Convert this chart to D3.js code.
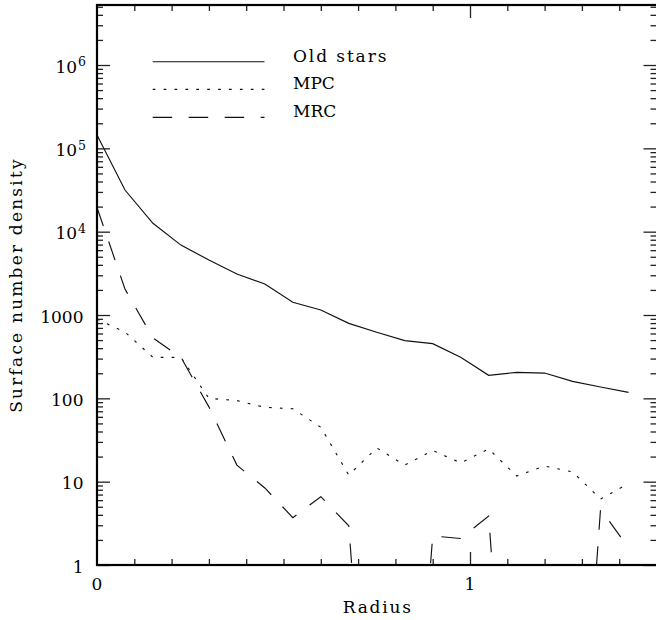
<!DOCTYPE html>
<html>
<head>
<meta charset="utf-8">
<script src="https://cdn.jsdelivr.net/npm/d3@7"></script>
<style>
  html, body { margin: 0; padding: 0; background: #fff; }
  svg { display: block; }
  text { font-family: "DejaVu Serif", "Liberation Serif", serif; fill: #000; }
</style>
</head>
<body>
<svg id="chart" width="656" height="620"></svg>
<script>
// Radial bins (x) and surface number densities for each population
const radius = [0, 0.075, 0.15, 0.225, 0.3, 0.375, 0.45, 0.525, 0.6, 0.675,
                0.75, 0.825, 0.9, 0.975, 1.05, 1.125, 1.2, 1.275, 1.35, 1.425];
const oldStars = [145000, 31600, 12600, 6900, 4570, 3100, 2360, 1420, 1150, 794,
                  620, 492, 453, 311, 189, 205, 201, 160, 137, 118];
const mpc = [890, 625, 310, 310, 100, 94, 78, 75, 45, 12,
             25.4, 15.8, 23.7, 16.8, 24.7, 11.7, 15.4, 13.1, 6.2, 9.5];
// empty bins are stored as 0
const mrc = [19500, 2050, 530, 310, 79, 15.8, 8.4, 3.7, 6.6, 2.95,
             0, 0, 2.23, 2.08, 3.87, 0, 0, 0, 4.7, 1.6];

const seriesNames = ["Old stars", "MPC", "MRC"];

const xDomain = [0, 1.5];
const yDomain = [1, 5.25e6];
const xTickValues = [0, 1];
const xTickLabels = ["0", "1"];
const yTickValues = [1, 10, 100, 1000, 1e4, 1e5, 1e6];
const yTickBase = ["1", "10", "100", "1000", "10", "10", "10"];
const yTickExp = ["", "", "", "", "4", "5", "6"];

const xTitle = "Radius";
const yTitle = "Surface number density";

// log of an empty bin is pushed far below the frame and clipped
const ZERO_FLOOR = 1e-4;

(function draw() {
  const svg = d3.select("#chart");
  const m = { left: 97, right: 656.5, top: 5, bottom: 565 };

  const x = d3.scaleLinear().domain(xDomain).range([m.left, m.right]);
  const y = d3.scaleLog().domain(yDomain).range([m.bottom, m.top]);

  // ---- data lines (clipped to the frame) ----
  svg.append("clipPath").attr("id", "plotClip")
    .append("rect").attr("x", m.left).attr("y", m.top)
    .attr("width", m.right - m.left).attr("height", m.bottom - m.top);

  const styles = [
    { dash: null },
    { dash: "2.7,8.2" },
    { dash: "19.5,16.5" }
  ];
  const seriesData = [oldStars, mpc, mrc];

  const line = d3.line()
    .x((d, i) => x(radius[i]))
    .y(d => y(d > 0 ? d : ZERO_FLOOR));

  const plot = svg.append("g").attr("clip-path", "url(#plotClip)");
  seriesData.forEach((vals, s) => {
    plot.append("path")
      .datum(vals)
      .attr("d", line)
      .attr("fill", "none")
      .attr("stroke", "#111")
      .attr("stroke-width", 1.15)
      .attr("stroke-dasharray", styles[s].dash);
  });

  // ---- axes: major and minor ticks on all four sides ----
  const yMinor = y.ticks(100).filter(v => !yTickValues.includes(v) && v <= yDomain[1]);
  const xMinor = x.ticks(15).filter(v => !xTickValues.includes(v) && v > xDomain[0] && v < xDomain[1]);
  const xMajor = xTickValues.filter(v => v > xDomain[0]);

  function styleAxis(g) {
    g.select(".domain").remove();
    g.selectAll(".tick line").attr("stroke", "#222").attr("stroke-width", 1.3);
    g.selectAll(".tick text").remove();
  }

  const majorLen = 13, minorLen = 6;

  function addAxis(axisFn, scale, values, len, tx, ty) {
    svg.append("g").attr("transform", `translate(${tx},${ty})`)
      .call(axisFn(scale).tickValues(values).tickSize(-len).tickFormat(""))
      .call(styleAxis);
  }

  addAxis(d3.axisLeft, y, yTickValues, majorLen, m.left, 0);
  addAxis(d3.axisLeft, y, yMinor, minorLen, m.left, 0);
  addAxis(d3.axisRight, y, yTickValues, majorLen, m.right, 0);
  addAxis(d3.axisRight, y, yMinor, minorLen, m.right, 0);
  addAxis(d3.axisBottom, x, xMajor, majorLen, 0, m.bottom);
  addAxis(d3.axisBottom, x, xMinor, minorLen, 0, m.bottom);
  addAxis(d3.axisTop, x, xMajor, majorLen, 0, m.top);
  addAxis(d3.axisTop, x, xMinor, minorLen, 0, m.top);

  // frame (its right edge sits just past the canvas edge)
  svg.append("rect")
    .attr("x", m.left).attr("y", m.top)
    .attr("width", m.right + 1.2 - m.left).attr("height", m.bottom - m.top)
    .attr("fill", "none").attr("stroke", "#000").attr("stroke-width", 2.2);

  // ---- tick labels ----
  yTickValues.forEach((v, i) => {
    const hasExp = yTickExp[i] !== "";
    const t = svg.append("text")
      .attr("x", hasExp ? 86 : 83.5)
      .attr("y", y(v) + 7.6)
      .attr("text-anchor", "end")
      .attr("font-size", 17);
    t.append("tspan").text(yTickBase[i]);
    if (hasExp) {
      t.append("tspan").attr("dy", -6.2).attr("dx", 1).attr("font-size", 12.5).text(yTickExp[i]);
    }
  });

  xTickValues.forEach((v, i) => {
    svg.append("text")
      .attr("x", x(v))
      .attr("y", 590)
      .attr("text-anchor", "middle")
      .attr("font-size", 17)
      .text(xTickLabels[i]);
  });

  // ---- axis titles ----
  svg.append("text")
    .attr("x", (m.left + m.right) / 2 + 1)
    .attr("y", 613)
    .attr("text-anchor", "middle")
    .attr("font-size", 17)
    .attr("letter-spacing", 1.8)
    .text(xTitle);

  svg.append("text")
    .attr("transform", `translate(22,${(m.top + m.bottom) / 2}) rotate(-90)`)
    .attr("text-anchor", "middle")
    .attr("font-size", 17)
    .attr("letter-spacing", 2.2)
    .text(yTitle);

  // ---- legend ----
  const legendY = [61.7, 89.3, 117.3];
  seriesNames.forEach((name, s) => {
    svg.append("line")
      .attr("x1", 152.7).attr("x2", 264.5)
      .attr("y1", legendY[s]).attr("y2", legendY[s])
      .attr("stroke", "#111").attr("stroke-width", 1.15)
      .attr("stroke-dasharray", styles[s].dash);
    svg.append("text")
      .attr("x", 293)
      .attr("y", legendY[s])
      .attr("font-size", 17)
      .attr("letter-spacing", /[a-z]/.test(name) ? 1.9 : 0)
      .text(name);
  });
})();
</script>
</body>
</html>
